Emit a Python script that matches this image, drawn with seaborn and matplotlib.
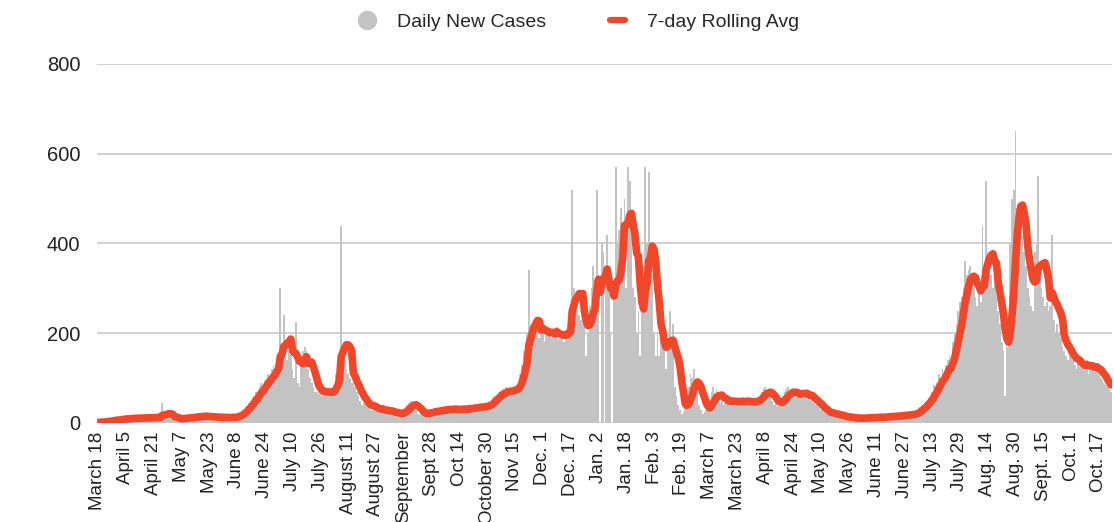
import numpy as np
import pandas as pd
import matplotlib
matplotlib.use("Agg")
import matplotlib.pyplot as plt
from matplotlib.lines import Line2D
import seaborn as sns

# Daily new cases, one value per day starting March 18
daily_cases = [
    1, 2, 3, 2, 4, 5, 4,
    5, 6, 8, 7, 9, 6, 8,
    9, 11, 10, 12, 8, 10, 11,
    10, 12, 11, 13, 9, 11, 12,
    11, 13, 12, 14, 10, 12, 13,
    12, 14, 45, 18, 15, 22, 20,
    8, 10, 9, 11, 8, 10, 9,
    11, 13, 12, 14, 10, 12, 13,
    14, 16, 15, 17, 13, 15, 16,
    12, 14, 13, 15, 11, 13, 14,
    11, 13, 12, 14, 10, 12, 13,
    12, 14, 13, 16, 18, 22, 25,
    30, 35, 38, 45, 50, 55, 60,
    70, 65, 80, 90, 75, 95, 100,
    110, 95, 120, 130, 105, 140, 150,
    300, 130, 240, 150, 140, 160, 190,
    120, 100, 224, 90, 80, 150, 160,
    170, 160, 120, 100, 90, 80, 70,
    70, 65, 75, 60, 70, 80, 65,
    70, 60, 75, 70, 110, 130, 150,
    440, 130, 140, 120, 110, 100, 90,
    90, 80, 70, 60, 50, 40, 45,
    45, 40, 35, 30, 40, 35, 30,
    30, 25, 28, 32, 26, 30, 28,
    20, 25, 22, 18, 24, 22, 20,
    22, 25, 35, 40, 45, 50, 45,
    40, 30, 20, 18, 22, 20, 15,
    25, 30, 20, 28, 25, 30, 22,
    28, 32, 30, 26, 35, 28, 30,
    32, 28, 35, 30, 25, 33, 30,
    30, 35, 32, 28, 38, 30, 35,
    35, 38, 32, 40, 36, 34, 38,
    40, 45, 42, 55, 60, 58, 65,
    70, 65, 75, 60, 80, 72, 70,
    75, 70, 80, 72, 90, 110, 130,
    160, 180, 200, 340, 190, 210, 220,
    210, 230, 190, 200, 220, 180, 210,
    200, 210, 190, 205, 195, 215, 185,
    190, 200, 180, 210, 190, 250, 200,
    520, 300, 260, 250, 240, 230, 220,
    230, 150, 200, 260, 300, 350, 280,
    520, 330, 0, 400, 380, 350, 420,
    350, 200, 0, 280, 570, 400, 430,
    480, 420, 500, 300, 570, 540, 460,
    300, 280, 200, 250, 150, 250, 350,
    570, 400, 560, 300, 330, 200, 150,
    200, 150, 220, 180, 160, 120, 170,
    250, 190, 220, 80, 60, 40, 30,
    20, 25, 40, 60, 80, 110, 100,
    120, 90, 80, 40, 30, 20, 25,
    30, 40, 50, 70, 80, 60, 75,
    50, 45, 55, 40, 60, 50, 45,
    45, 50, 48, 42, 55, 47, 50,
    48, 44, 52, 46, 50, 45, 47,
    45, 50, 55, 60, 70, 75, 80,
    70, 60, 65, 50, 40, 45, 35,
    40, 50, 60, 70, 75, 80, 65,
    60, 70, 55, 75, 65, 60, 70,
    65, 70, 60, 55, 50, 60, 45,
    40, 45, 35, 30, 28, 25, 22,
    22, 20, 18, 25, 20, 18, 15,
    15, 13, 16, 12, 14, 11, 13,
    10, 12, 9, 11, 10, 12, 11,
    11, 13, 10, 12, 14, 11, 13,
    12, 14, 13, 15, 11, 13, 14,
    14, 16, 15, 17, 13, 15, 16,
    17, 19, 18, 20, 16, 18, 19,
    20, 24, 22, 30, 35, 40, 38,
    45, 50, 55, 60, 70, 85, 80,
    90, 110, 100, 120, 95, 130, 140,
    150, 120, 180, 200, 220, 250, 270,
    280, 300, 360, 330, 340, 350, 310,
    300, 280, 260, 290, 270, 440, 300,
    540, 380, 350, 330, 300, 320, 280,
    250, 220, 180, 160, 60, 170, 220,
    400, 500, 520, 650, 480, 430, 400,
    420, 380, 350, 300, 280, 260, 250,
    380, 400, 550, 330, 300, 280, 260,
    270, 250, 260, 420, 230, 200, 220,
    200, 190, 170, 160, 150, 140, 180,
    150, 140, 130, 120, 135, 125, 140,
    130, 120, 140, 110, 130, 125, 120,
    130, 120, 110, 100, 95, 90, 85,
    80, 75, 70,
]

tick_labels = [
    "March 18", "April 5", "April 21", "May 7", "May 23", "June 8",
    "June 24", "July 10", "July 26", "August 11", "August 27", "September",
    "Sept 28", "Oct 14", "October 30", "Nov 15", "Dec. 1", "Dec. 17",
    "Jan. 2", "Jan. 18", "Feb. 3", "Feb. 19", "March 7", "March 23",
    "April 8", "April 24", "May 10", "May 26", "June 11", "June 27",
    "July 13", "July 29", "Aug. 14", "Aug. 30", "Sept. 15", "Oct. 1", "Oct. 17",
]
tick_step = 16
y_ticks = [0, 200, 400, 600, 800]

n = len(daily_cases)
day_idx = np.arange(n)
df = pd.DataFrame({"day": day_idx, "cases": daily_cases})
df["avg"] = df["cases"].rolling(7, min_periods=1).mean()

sns.set_theme(style="white")
plt.rcParams["font.family"] = ["Liberation Sans", "DejaVu Sans"]

fig = plt.figure(figsize=(11.14, 5.22), dpi=100)
ax = fig.add_axes([97 / 1114, 99 / 522, 1015 / 1114, 359 / 522])

bar_color = "#c3c3c3"
line_color = "#f0472a"

sns.barplot(data=df, x="day", y="cases", color=bar_color, saturation=1,
            width=1.0, errorbar=None, linewidth=0, ax=ax, zorder=2)
sns.lineplot(data=df, x="day", y="avg", color=line_color, linewidth=5.5,
             ax=ax, zorder=3, legend=False)

ax.set_xlim(-0.5, n - 0.5)
ax.set_ylim(0, 800)
ax.set_yticks(y_ticks)
ax.set_yticklabels([str(v) for v in y_ticks], fontsize=14.5, color="#222222")
ax.set_xticks(list(range(0, tick_step * len(tick_labels), tick_step)))
ax.set_xticklabels(tick_labels, rotation=90, fontsize=13.5, color="#222222")
ax.tick_params(axis="x", length=0, pad=6)
ax.tick_params(axis="y", length=0, pad=12)
ax.set_xlabel("")
ax.set_ylabel("")
ax.grid(axis="y", color="#c8c8c8", linewidth=1.2, zorder=0)
ax.grid(axis="x", visible=False)
for s in ax.spines.values():
    s.set_visible(False)
ax.set_axisbelow(True)

handles = [
    Line2D([], [], linestyle="none", marker="o", markersize=13,
           markerfacecolor=bar_color, markeredgecolor=bar_color),
    Line2D([], [], color=line_color, linewidth=4.5),
]
fig.legend(handles, ["Daily New Cases", "7-day Rolling Avg"], loc="center",
           bbox_to_anchor=(0.52, 0.958), ncol=2, frameon=False, fontsize=14,
           handlelength=0.8, handletextpad=1.1, columnspacing=3.3)

fig.savefig("out.png", dpi=100)
